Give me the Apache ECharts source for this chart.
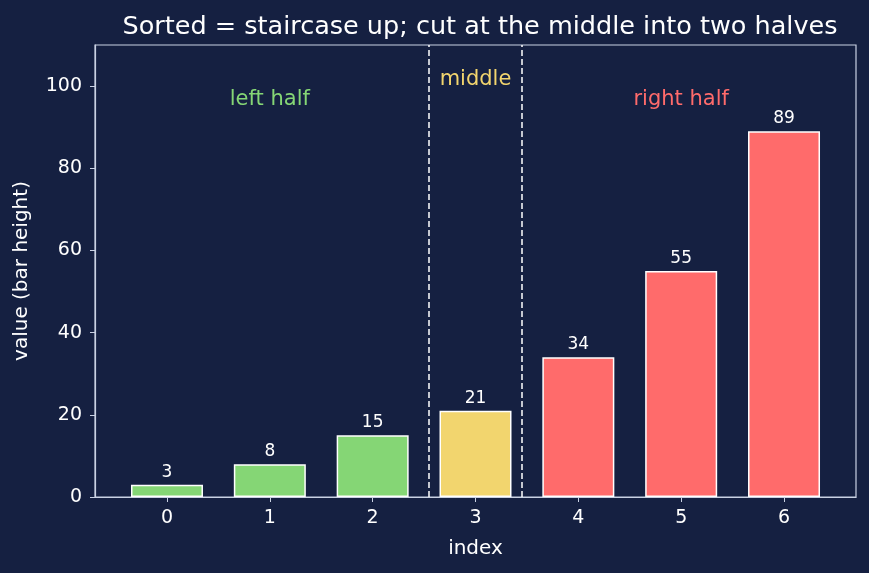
<!DOCTYPE html>
<html>
<head>
<meta charset="utf-8">
<script src="https://cdn.jsdelivr.net/npm/echarts@6/dist/echarts.min.js"></script>
<style>
  html, body { margin: 0; padding: 0; background: #152041; }
  #chart { width: 869px; height: 573px; }
</style>
</head>
<body>
<div id="chart"></div>
<script>
// data
var indexList = [0, 1, 2, 3, 4, 5, 6];
var valueList = [3, 8, 15, 21, 34, 55, 89];
var groupList = ['left', 'left', 'left', 'middle', 'right', 'right', 'right'];
var yTicks = [0, 20, 40, 60, 80, 100];
var cutLines = [2.55, 3.45];
var noteText = ['left half', 'middle', 'right half'];
var noteX = [1, 3, 5];
var noteY = [96.8, 101.7, 96.8];

var groupColor = { left: '#85d675', middle: '#f2d56e', right: '#ff6b6b' };
var noteColor = ['#85d675', '#f2d56e', '#ff6b6b'];
var frameColor = '#c9d1e3';
var font = 'DejaVu Sans';

var barData = [];
for (i = 0; i < indexList.length; i++) {
    barData.push({
        value: [indexList[i], valueList[i]],
        itemStyle: { color: groupColor[groupList[i]] }
    });
}
var noteData = [];
for (i = 0; i < noteText.length; i++) {
    noteData.push({
        value: [noteX[i], noteY[i]],
        label: { formatter: noteText[i], color: noteColor[i] }
    });
}

var myChart = echarts.init(document.getElementById('chart'));
var option = {
    backgroundColor: '#152041',
    textStyle: { fontFamily: font },
    title: {
        text: 'Sorted = staircase up; cut at the middle into two halves',
        left: 475,
        textAlign: 'center',
        top: 9,
        textStyle: { color: '#ffffff', fontSize: 25.5, fontWeight: 'normal', fontFamily: font }
    },
    grid: {
        left: 95,
        right: 13,
        top: 45,
        bottom: 76,
        show: true,
        borderColor: frameColor,
        borderWidth: 1.2,
        backgroundColor: 'transparent'
    },
    xAxis: {
        type: 'value',
        min: -0.7,
        max: 6.7,
        name: 'index',
        nameLocation: 'middle',
        nameGap: 42,
        nameTextStyle: { color: '#ffffff', fontSize: 20, fontFamily: font },
        axisLine: { show: true, onZero: false, lineStyle: { color: frameColor, width: 1.2 } },
        axisTick: { show: true, length: 5, customValues: indexList, lineStyle: { color: frameColor } },
        axisLabel: { customValues: indexList, color: '#ffffff', fontSize: 19, margin: 12, fontFamily: font },
        splitLine: { show: false }
    },
    yAxis: {
        type: 'value',
        min: 0,
        max: 110,
        name: 'value (bar height)',
        nameLocation: 'middle',
        nameGap: 63,
        nameTextStyle: { color: '#ffffff', fontSize: 20, fontFamily: font },
        axisLine: { show: true, onZero: false, lineStyle: { color: frameColor, width: 1.2 } },
        axisTick: { show: true, length: 5, customValues: yTicks, lineStyle: { color: frameColor } },
        axisLabel: { customValues: yTicks, color: '#ffffff', fontSize: 19, margin: 13, fontFamily: font },
        splitLine: { show: false }
    },
    series: [
        {
            type: 'bar',
            barWidth: 72,
            data: barData,
            itemStyle: { borderColor: '#ffffff', borderWidth: 1.5 },
            label: {
                show: true,
                position: 'top',
                distance: 4,
                color: '#ffffff',
                fontSize: 17,
                fontFamily: font
            },
            markLine: {
                silent: true,
                symbol: 'none',
                label: { show: false },
                lineStyle: { color: '#ffffff', type: [6, 3], width: 1.5 },
                data: cutLines.map(function (v) { return { xAxis: v }; })
            }
        },
        {
            type: 'scatter',
            symbolSize: 0,
            silent: true,
            data: noteData,
            itemStyle: { opacity: 1 },
            label: {
                show: true,
                position: 'inside',
                fontSize: 21,
                fontFamily: font
            }
        }
    ]
};
option && myChart.setOption(option);
</script>
</body>
</html>
